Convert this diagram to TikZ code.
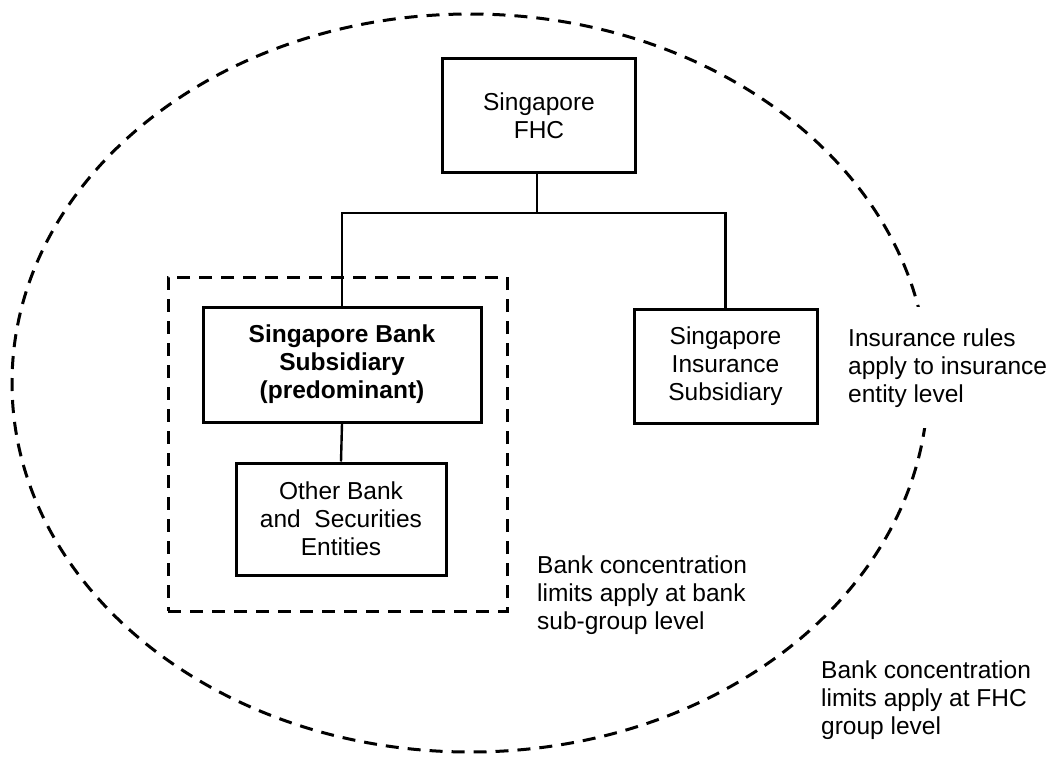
\documentclass[tikz,border=0pt]{standalone}
\usepackage{fontspec}
\setmainfont{Liberation Sans}
\begin{document}
\begin{tikzpicture}[x=1pt,y=-1pt,
  txt/.style={font=\fontsize{24.5}{28}\selectfont},
  entity/.style={txt, draw, line width=3pt, align=center, inner sep=0pt},
  link/.style={line width=2.4pt},
  note/.style={txt, align=left, inner sep=0pt},
  zone/.style={line width=3pt, dash pattern=on 13pt off 9pt}]
\useasboundingbox (0,0) rectangle (1052,757);

% FHC group boundary
\draw[zone] (470,383) ellipse [x radius=458pt, y radius=369pt];

% bank sub-group boundary
\node[zone, draw, minimum width=339pt, minimum height=334pt, inner sep=0pt] (subgroup) at (337.5,444) {};

% entities
\node[entity, minimum width=193pt, minimum height=113pt] (fhc) at (539,115.5) {Singapore\\FHC};
\node[entity, font=\fontsize{24.5}{28}\selectfont\bfseries, minimum width=278pt, minimum height=115pt] (bank) at (342,364.5) {Singapore Bank\\Subsidiary\\(predominant)};
\node[entity, minimum width=210pt, minimum height=112pt] (other) at (341,519) {Other Bank\\and\ \ Securities\\Entities};
\node[entity, minimum width=183pt, minimum height=114pt] (ins) at (725.5,366) {Singapore\\Insurance\\Subsidiary};

% ownership links
\coordinate (split) at (537,213);
\draw[link] ([xshift=-2pt]fhc.south) -- (split);
\draw[link] (bank.north) |- (split) -| (ins.north);
\draw[link] (bank.south) -- (other.north);

% notes
\node[note, fill=white, anchor=north west, minimum height=121pt, inner xsep=4pt] (insnote) at (844,307) {Insurance rules\\apply to insurance\\entity level};
\node[note, anchor=west] (subnote) at (537,595) {Bank concentration\\limits apply at bank\\sub-group level};
\node[note, anchor=west] (fhcnote) at (821,700) {Bank concentration\\limits apply at FHC\\group level};
\end{tikzpicture}
\end{document}
